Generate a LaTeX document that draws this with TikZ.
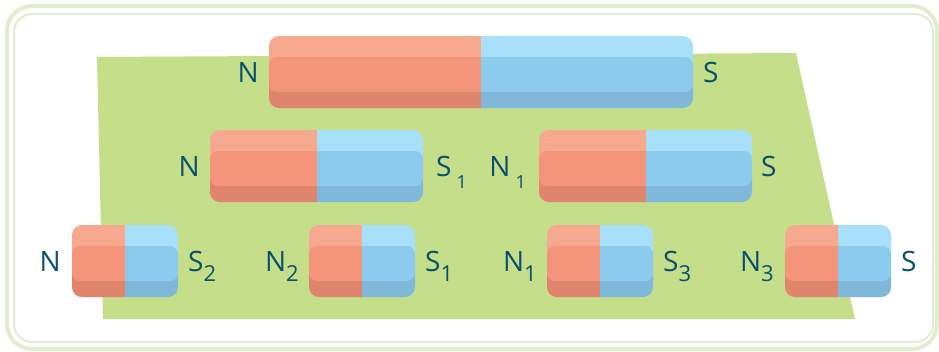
\documentclass[tikz,border=0pt]{standalone}
\usepackage{fontspec}
\setmainfont{Open Sans}
\usepackage{tikz}
\usetikzlibrary{positioning}

\definecolor{redlight}{HTML}{F7A98F}
\definecolor{redmid}{HTML}{F4947A}
\definecolor{reddark}{HTML}{E0856D}
\definecolor{bluelight}{HTML}{A9E0F9}
\definecolor{bluemid}{HTML}{8DCBEE}
\definecolor{bluedark}{HTML}{80B8D9}
\definecolor{plategreen}{HTML}{C5DE8A}
\definecolor{framegreen}{HTML}{E0EDCF}
\definecolor{poletext}{HTML}{0A4F6D}

% three bands of one half of a bar: light top, dark bottom, mid face
\newcommand\magnetlayers[6]{%
  \fill[#4, rounded corners=10] (#1,#3) rectangle (#2,#3+72);
  \fill[#6, rounded corners=10] (#1,#3+36) rectangle (#2,#3+72);
  \fill[#5, rounded corners=8] (#1,#3+21) rectangle (#2,#3+56);
}
% bar magnet: name, left x, split x, right x, top y
\newcommand\magnetbar[5]{%
  \begin{scope}
    \clip (#2-1,#5-1) rectangle (#3,#5+73);
    \magnetlayers{#2}{#4}{#5}{redlight}{redmid}{reddark}
  \end{scope}
  \begin{scope}
    \clip (#3,#5-1) rectangle (#4+1,#5+73);
    \magnetlayers{#2}{#4}{#5}{bluelight}{bluemid}{bluedark}
  \end{scope}
  \coordinate (#1-w) at (#2,#5+46);
  \coordinate (#1-e) at (#4,#5+46);
}
% pole letter with index
\newcommand\pole[2]{#1\raisebox{-10pt}{\fontsize{22}{22}\selectfont #2}}
\newcommand\polewide[2]{#1\hspace{5pt}\raisebox{-12pt}{\fontsize{18}{18}\selectfont #2}}

\tikzset{
  polelabel/.style={text=poletext, inner sep=0pt, font=\fontsize{28}{28}\selectfont},
  nlabel/.style={polelabel, anchor=base east},
  slabel/.style={polelabel, anchor=base west}
}

\begin{document}
\begin{tikzpicture}[x=1pt, y=-1pt]
  \useasboundingbox (0,0) rectangle (939,351);

  % frame
  \draw[framegreen, line width=4, rounded corners=25] (7,6) rectangle (937,349);
  \draw[framegreen, line width=2, rounded corners=18] (14,14) rectangle (933,342);

  % plate
  \fill[plategreen] (97,57) -- (796,53) -- (855,319) -- (103,319) -- cycle;

  % whole magnet
  \magnetbar{whole}{269}{481}{693}{36}
  \node[nlabel] (wholeN) at ([xshift=-10]whole-w) {N};
  \node[slabel] (wholeS) at ([xshift=10]whole-e) {S};

  % halves
  \magnetbar{halfa}{210}{317}{423}{130}
  \magnetbar{halfb}{539}{646}{752}{130}
  \node[nlabel] (halfaN) at ([xshift=-10]halfa-w) {N};
  \node[slabel] (halfaS) at ([xshift=13]halfa-e) {\polewide{S}{1}};
  \node[nlabel] (halfbN) at ([xshift=-13]halfb-w) {\polewide{N}{1}};
  \node[slabel] (halfbS) at ([xshift=9]halfb-e) {S};

  % quarters
  \magnetbar{quarta}{72}{125}{178}{225}
  \magnetbar{quartb}{309}{362}{415}{225}
  \magnetbar{quartc}{547}{600}{653}{225}
  \magnetbar{quartd}{785}{838}{891}{225}
  \node[nlabel] (quartaN) at ([xshift=-11]quarta-w) {N};
  \node[slabel] (quartaS) at ([xshift=10]quarta-e) {\pole{S}{2}};
  \node[nlabel] (quartbN) at ([xshift=-10]quartb-w) {\pole{N}{2}};
  \node[slabel] (quartbS) at ([xshift=10]quartb-e) {\pole{S}{1}};
  \node[nlabel] (quartcN) at ([xshift=-10]quartc-w) {\pole{N}{1}};
  \node[slabel] (quartcS) at ([xshift=10]quartc-e) {\pole{S}{3}};
  \node[nlabel] (quartdN) at ([xshift=-11]quartd-w) {\pole{N}{3}};
  \node[slabel] (quartdS) at ([xshift=10]quartd-e) {S};
\end{tikzpicture}
\end{document}
